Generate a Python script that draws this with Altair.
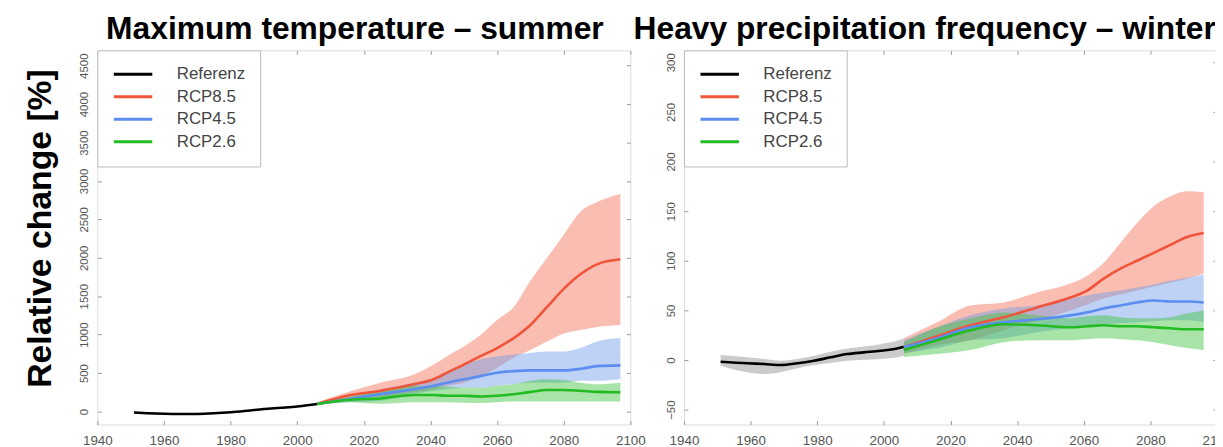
import altair as alt
import pandas as pd

SERIES = ["Referenz", "RCP8.5", "RCP4.5", "RCP2.6"]
BANDS = ["Referenz range", "RCP8.5 range", "RCP4.5 range", "RCP2.6 range"]
LINE_COLORS = ["#000000", "#f0553a", "#5b8ef0", "#22bb22"]
BAND_COLORS = ["#8c8c8c", "#f46d55", "#6d9be8", "#3ec43c"]

# ---------- Left panel: Maximum temperature - summer ----------
T_REF_YEARS = [1951, 1955, 1960, 1965, 1970, 1975, 1980, 1985, 1990, 1995, 2000, 2003, 2006]
T_REF_MEAN = [-12, -22, -30, -33, -32, -24, -10, 10, 32, 48, 65, 80, 98]
T_REF_LO = [-22, -32, -40, -43, -42, -34, -20, 0, 22, 38, 55, 70, 88]
T_REF_HI = [-2, -12, -20, -23, -22, -14, 0, 20, 42, 58, 75, 90, 108]

T_YEARS = [2006, 2015, 2025, 2035, 2041, 2045, 2050, 2055, 2060, 2065, 2070, 2075, 2080, 2085, 2090, 2097]
T_85_MEAN = [98, 205, 270, 355, 420, 505, 610, 720, 825, 955, 1125, 1360, 1595, 1785, 1915, 1980]
T_85_HI = [120, 250, 375, 480, 610, 720, 845, 995, 1190, 1360, 1700, 2000, 2300, 2600, 2725, 2835]
T_85_LO = [80, 140, 185, 250, 290, 335, 375, 460, 570, 700, 800, 910, 1015, 1060, 1100, 1125]
T_45_MEAN = [98, 160, 225, 290, 335, 375, 420, 460, 505, 525, 535, 535, 535, 555, 590, 600]
T_45_HI = [110, 185, 290, 375, 440, 525, 610, 675, 720, 740, 760, 780, 780, 825, 910, 955]
T_45_LO = [88, 120, 140, 225, 270, 290, 310, 310, 335, 355, 375, 375, 375, 400, 400, 420]
T_26_MEAN = [98, 150, 170, 215, 215, 205, 205, 195, 205, 225, 255, 280, 280, 270, 255, 250]
T_26_HI = [110, 185, 270, 335, 330, 325, 310, 310, 335, 355, 400, 420, 410, 375, 355, 375]
T_26_LO = [85, 120, 100, 120, 120, 120, 115, 110, 120, 130, 130, 130, 130, 130, 130, 130]

# ---------- Right panel: Heavy precipitation frequency - winter ----------
P_REF_YEARS = [1951, 1959, 1964, 1969, 1974, 1979, 1984, 1989, 1994, 1999, 2004, 2006]
P_REF_MEAN = [-1.7, -3.3, -4, -5, -3.3, -0.7, 2.7, 6, 7.7, 9.3, 11.7, 13.3]
P_REF_HI = [5, 2.7, 1, -0.7, 1, 4.3, 8.3, 11.7, 13.7, 16, 19.3, 21.7]
P_REF_LO = [-5.7, -12.3, -14, -12.3, -8.3, -5, -3, -0.7, 0.3, 1, 2.7, 4.3]

P_YEARS = [2006, 2016, 2026, 2036, 2046, 2056, 2061, 2066, 2071, 2076, 2081, 2086, 2091, 2096]
P_85_MEAN = [13, 24, 35, 43, 53, 63, 70, 82, 92, 100, 108, 116, 124, 128]
P_85_HI = [22, 38, 55, 58, 68, 77, 85, 98, 118, 138, 155, 165, 170, 169]
P_85_LO = [6, 15, 20, 30, 40, 50, 56, 62, 66, 70, 74, 78, 82, 87]
P_45_MEAN = [13, 22, 33, 38, 41, 45, 48, 52, 55, 58, 60, 59, 59, 58]
P_45_HI = [20, 33, 45, 52, 55, 62, 65, 68, 70, 73, 76, 80, 83, 86]
P_45_LO = [7, 12, 20, 22, 28, 32, 34, 36, 37, 38, 39, 40, 40, 38]
P_26_MEAN = [10, 20, 30, 36, 35, 33, 34, 35, 34, 34, 33, 32, 31, 31]
P_26_HI = [18, 33, 42, 48, 45, 42, 44, 45, 43, 42, 42, 43, 47, 50]
P_26_LO = [3, 6, 10, 18, 20, 20, 21, 22, 21, 20, 18, 15, 12, 10]

X_TICKS = [1940, 1960, 1980, 2000, 2020, 2040, 2060, 2080, 2100]
T_Y_TICKS = [0, 500, 1000, 1500, 2000, 2500, 3000, 3500, 4000, 4500]
P_Y_TICKS = [-50, 0, 50, 100, 150, 200, 250, 300]


def frame(parts):
    rows = []
    for k, (name, years, mean, lo, hi) in enumerate(parts):
        for i, yr in enumerate(years):
            rows.append({"year": yr, "series": name, "band": BANDS[k],
                         "mean": mean[i], "lo": lo[i], "hi": hi[i]})
    return pd.DataFrame(rows)


T_DF = frame([
    ("Referenz", T_REF_YEARS, T_REF_MEAN, T_REF_LO, T_REF_HI),
    ("RCP8.5", T_YEARS, T_85_MEAN, T_85_LO, T_85_HI),
    ("RCP4.5", T_YEARS, T_45_MEAN, T_45_LO, T_45_HI),
    ("RCP2.6", T_YEARS, T_26_MEAN, T_26_LO, T_26_HI),
])
P_DF = frame([
    ("Referenz", P_REF_YEARS, P_REF_MEAN, P_REF_LO, P_REF_HI),
    ("RCP8.5", P_YEARS, P_85_MEAN, P_85_LO, P_85_HI),
    ("RCP4.5", P_YEARS, P_45_MEAN, P_45_LO, P_45_HI),
    ("RCP2.6", P_YEARS, P_26_MEAN, P_26_LO, P_26_HI),
])

FONT = "Liberation Sans"


def panel(df, title, ydomain, yticks, ytitle, title_dx, width, height):
    xscale = alt.Scale(domain=[1940, 2100], nice=False, zero=False)
    yscale = alt.Scale(domain=ydomain, nice=False, zero=False)
    common_ax = dict(domain=False, grid=False, tickColor="#9a9a9a", tickSize=4,
                     offset=-4, labelFont=FONT, labelColor="#555555", labelFlush=False)
    x_bottom = alt.Axis(orient="bottom", values=X_TICKS, format="d", labelFontSize=13.5,
                        labelPadding=9.5, title=None, **common_ax)
    y_args = dict(orient="left", values=yticks, format="d", labelFontSize=11.5,
                  labelAngle=270, labelAlign="center", labelBaseline="bottom",
                  labelPadding=7.5, **common_ax)
    if ytitle:
        y_left = alt.Axis(title=ytitle, titleFont=FONT, titleFontSize=34, titleFontWeight="bold",
                          titleColor="#000000", titlePadding=22, titleY=179, **y_args)
    else:
        y_left = alt.Axis(title=None, **y_args)
    x_top = alt.Axis(orient="top", values=X_TICKS, labels=False, title=None, **common_ax)
    y_right = alt.Axis(orient="right", values=yticks, labels=False, title=None, **common_ax)

    bands = alt.Chart(df).mark_area(opacity=0.45, interpolate="monotone").encode(
        x=alt.X("year:Q", scale=xscale, axis=x_bottom),
        y=alt.Y("lo:Q", scale=yscale, axis=y_left),
        y2="hi:Q",
        fill=alt.Fill("band:N", scale=alt.Scale(domain=BANDS, range=BAND_COLORS), legend=None),
    )
    lines = alt.Chart(df).mark_line(strokeWidth=2.6, interpolate="monotone").encode(
        x=alt.X("year:Q", scale=xscale, axis=x_top),
        y=alt.Y("mean:Q", scale=yscale, axis=y_right),
        color=alt.Color("series:N", scale=alt.Scale(domain=SERIES, range=LINE_COLORS),
                        legend=alt.Legend(title=None, orient="top-left", offset=0, padding=15,
                                          strokeColor="#bbbbbb", fillColor="white",
                                          symbolType="stroke", symbolSize=1500,
                                          symbolStrokeWidth=3, labelFontSize=17,
                                          labelColor="#444444", labelFont=FONT,
                                          clipHeight=18, rowPadding=4.7, labelOffset=23)),
    )
    return alt.layer(bands, lines).resolve_axis(x="independent", y="independent").properties(
        width=width, height=height,
        title=alt.TitleParams(title, font=FONT, fontSize=32, fontWeight="bold", color="#000000",
                              anchor="middle", dx=title_dx, offset=4),
    )


left = panel(T_DF, "Maximum temperature \u2013 summer", [-170, 4700], T_Y_TICKS,
             "Relative change [%]", -9, 537, 377)
right = panel(P_DF, "Heavy precipitation frequency \u2013 winter", [-65, 312], P_Y_TICKS,
              None, -26, 537, 377)

chart = alt.hconcat(left, right, spacing=54, bounds="flush").resolve_scale(
    color="independent", fill="independent").resolve_legend(color="independent").configure_view(
    stroke="#9a9a9a", strokeWidth=1).configure(background="white").properties(
    padding={"left": 15, "top": 3, "right": -18, "bottom": 0})

chart.save("out.html", embed_options={"renderer": "svg", "actions": False})
